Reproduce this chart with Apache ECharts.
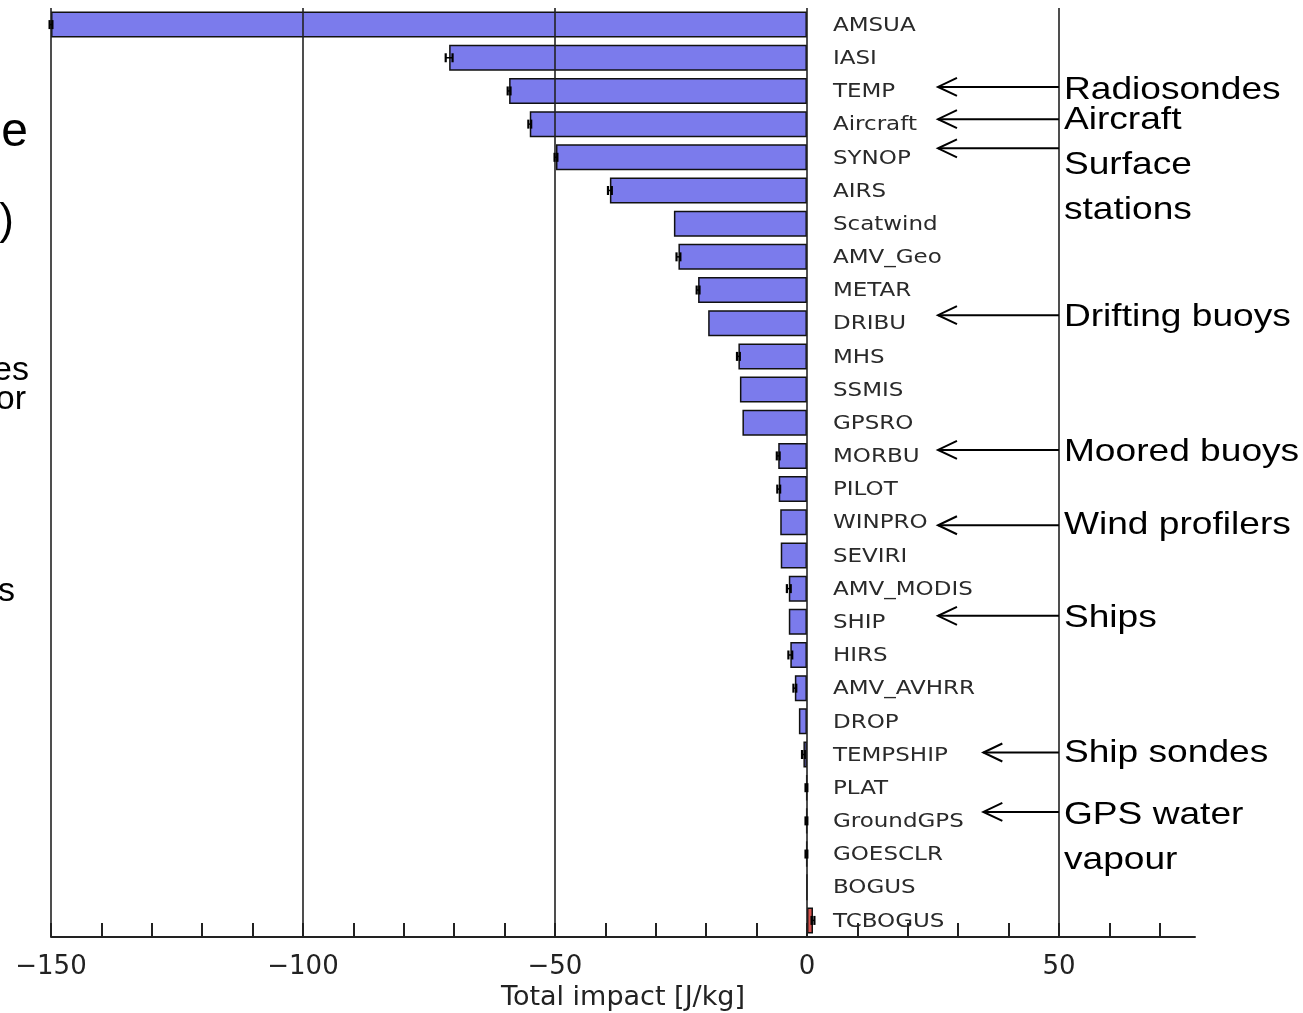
<!DOCTYPE html>
<html>
<head>
<meta charset="utf-8">
<script src="https://cdn.jsdelivr.net/npm/echarts@6/dist/echarts.min.js"></script>
<style>
  html, body { margin: 0; padding: 0; background: #fff; }
  #chart { width: 1303px; height: 1013px; }
</style>
</head>
<body>
<div id="chart"></div>
<script>
// Observation types, ordered from largest forecast-error reduction down
const categories = ['AMSUA', 'IASI', 'TEMP', 'Aircraft', 'SYNOP', 'AIRS', 'Scatwind', 'AMV_Geo',
  'METAR', 'DRIBU', 'MHS', 'SSMIS', 'GPSRO', 'MORBU', 'PILOT', 'WINPRO', 'SEVIRI',
  'AMV_MODIS', 'SHIP', 'HIRS', 'AMV_AVHRR', 'DROP', 'TEMPSHIP', 'PLAT', 'GroundGPS',
  'GOESCLR', 'BOGUS', 'TCBOGUS'];

// Total impact per observation type [J/kg]
const impact = [-150, -71.0, -59.1, -55.0, -49.8, -39.1, -26.4, -25.5,
  -21.6, -19.6, -13.6, -13.3, -12.8, -5.7, -5.6, -5.3, -5.2,
  -3.6, -3.6, -3.3, -2.4, -1.6, -0.7, -0.1, -0.1,
  -0.1, -0.02, 1.2];

// Uncertainty half-width of each impact value [J/kg]
const uncertainty = [0.3, 0.7, 0.3, 0.3, 0.3, 0.4, 0, 0.4,
  0.3, 0, 0.3, 0, 0, 0.3, 0.3, 0, 0,
  0.4, 0, 0.4, 0.3, 0, 0.3, 0.2, 0.2,
  0.2, 0, 0.3];

// Full-height reference lines
const gridValues = [-150, -100, -50, 0, 50];

// Callouts for conventional observing systems
const calloutRows = ['TEMP', 'Aircraft', 'SYNOP', 'DRIBU', 'MORBU', 'WINPRO', 'SHIP', 'TEMPSHIP', 'GroundGPS'];
const calloutTip = [26, 26, 26, 26, 26, 26, 26, 35, 35];
const calloutShift = [-4, -5, -9, -8, -6, 3, -6, -2, -9];
const calloutText = ['Radiosondes', 'Aircraft', 'Surface', 'stations', 'Drifting buoys', 'Moored buoys',
  'Wind profilers', 'Ships', 'Ship sondes', 'GPS water', 'vapour'];
const calloutTextY = [90, 120, 165, 210, 317, 452, 525, 618, 753, 815, 860];

// Edge of the accompanying slide text
const sideText = [
  { t: 'e', x: 28, y: 133, s: 48 },
  { t: ')', x: 14, y: 222, s: 44 },
  { t: 'es', x: 29, y: 371, s: 34 },
  { t: 'or', x: 26, y: 400, s: 34 },
  { t: 's', x: 15, y: 592, s: 34 }
];

const BLUE = '#7b7bec';
const RED = '#d9534f';
const INK = '#222';
const axisFont = 'DejaVu Sans';

const chart = echarts.init(document.getElementById('chart'));

const option = {
  animation: false,
  backgroundColor: '#fff',
  grid: { left: 51, right: 108, top: 8, bottom: 76, outerBoundsMode: 'none', containLabel: false },
  xAxis: {
    type: 'value',
    min: -150,
    max: 77,
    interval: 10,
    axisLine: { show: true, onZero: false, lineStyle: { color: INK, width: 2 } },
    axisTick: { show: true, inside: true, length: 14, lineStyle: { color: INK, width: 2 } },
    splitLine: { show: false },
    axisLabel: {
      margin: 17,
      color: INK,
      fontFamily: axisFont,
      fontSize: 26,
      showMinLabel: true,
      showMaxLabel: false,
      formatter: function (v) {
        if (v % 50 !== 0) return '';
        return v < 0 ? '\u2212' + Math.abs(v) : String(v);
      }
    },
    name: 'Total impact [J/kg]',
    nameLocation: 'middle',
    nameGap: 47,
    nameTextStyle: { color: INK, fontFamily: axisFont, fontSize: 27 }
  },
  yAxis: {
    type: 'category',
    data: categories,
    inverse: true,
    axisLine: { show: false },
    axisTick: { show: false },
    axisLabel: { show: false },
    splitLine: { show: false }
  },
  series: [
    {
      type: 'bar',
      data: impact,
      barWidth: 26,
      itemStyle: {
        color: function (p) { return p.value > 0 ? RED : BLUE; },
        borderColor: '#111',
        borderWidth: 1.5
      },
      markLine: {
        silent: true,
        symbol: 'none',
        label: { show: false },
        lineStyle: { color: INK, width: 1.6, type: 'solid' },
        data: gridValues.map(v => ({ xAxis: v }))
      },
      z: 2
    },
    {
      // uncertainty whiskers at the end of each bar
      type: 'custom',
      data: impact.map((v, i) => [v, i, uncertainty[i]]),
      renderItem: function (params, api) {
        const v = api.value(0), idx = api.value(1), e = api.value(2);
        if (!e) return null;
        const a = api.coord([v - e, idx]);
        const b = api.coord([v + e, idx]);
        const h = 9;
        return {
          type: 'group',
          children: [
            { type: 'line', shape: { x1: a[0], y1: a[1], x2: b[0], y2: b[1] }, style: { stroke: '#000', lineWidth: 1.5 } },
            { type: 'rect', shape: { x: a[0] - 1, y: a[1] - h / 2, width: 2.2, height: h }, style: { fill: '#000' } },
            { type: 'rect', shape: { x: b[0] - 1.2, y: b[1] - h / 2, width: 2.2, height: h }, style: { fill: '#000' } }
          ]
        };
      },
      z: 5
    },
    {
      // observation type names written just right of the zero line
      type: 'custom',
      data: categories.map((c, i) => [0, i]),
      renderItem: function (params, api) {
        const p = api.coord([api.value(0), api.value(1)]);
        return {
          type: 'text',
          x: p[0] + 26,
          y: p[1] + 1,
          scaleX: 1.15,
          style: {
            text: categories[params.dataIndex],
            fill: '#2a2a2a',
            font: '20px "DejaVu Sans"',
            textAlign: 'left',
            textVerticalAlign: 'middle'
          }
        };
      },
      z: 4
    }
  ]
};

chart.setOption(option);

// Callout arrows and labels
const x50 = chart.convertToPixel({ gridIndex: 0 }, [50, 0])[0];
const elements = [];
calloutRows.forEach((row, k) => {
  const y = chart.convertToPixel({ gridIndex: 0 }, [0, row])[1] + calloutShift[k];
  const tip = chart.convertToPixel({ gridIndex: 0 }, [calloutTip[k], row])[0];
  elements.push({
    type: 'polyline',
    shape: { points: [[x50, y], [tip, y]] },
    style: { stroke: '#000', lineWidth: 2, fill: null },
    z: 10
  });
  elements.push({
    type: 'polyline',
    shape: { points: [[tip + 19, y - 9], [tip, y], [tip + 19, y + 9]] },
    style: { stroke: '#000', lineWidth: 2, fill: null },
    z: 10
  });
});
calloutText.forEach((t, k) => {
  elements.push({
    type: 'text',
    x: x50 + 5,
    y: calloutTextY[k],
    scaleX: 1.16,
    style: {
      text: t,
      fill: '#000',
      font: '32px "Liberation Sans"',
      textAlign: 'left',
      textVerticalAlign: 'middle'
    },
    z: 10
  });
});
sideText.forEach(s => {
  elements.push({
    type: 'text',
    x: s.x,
    y: s.y,
    style: {
      text: s.t,
      fill: '#000',
      font: s.s + 'px "Liberation Sans"',
      textAlign: 'right',
      textVerticalAlign: 'middle'
    },
    z: 10
  });
});
chart.setOption({ graphic: { elements: elements } });
</script>
</body>
</html>
